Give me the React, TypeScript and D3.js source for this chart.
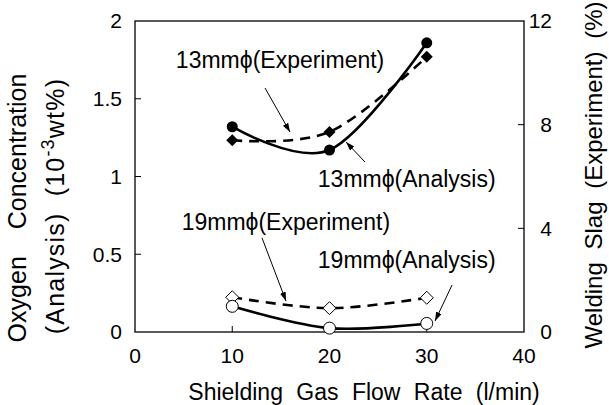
import React from 'react';
import * as d3 from 'd3';

// flow rate (l/min) on the x axis
const flowRates = [10, 20, 30];
// oxygen concentration, analysis (10^-3 wt%) - left axis
const oxygen13 = [1.32, 1.17, 1.86];
const oxygen19 = [0.165, 0.025, 0.055];
// welding slag, experiment (%) - right axis
const slag13 = [7.4, 7.72, 10.62];
const slag19 = [1.34, 0.92, 1.32];

const xTicks = [0, 10, 20, 30, 40];
const leftTicks = [0, 0.5, 1, 1.5, 2];
const rightTicks = [0, 4, 8, 12];

// labels with arrows, in data units (x, left axis value)
const notes = [
  {text: '13mm\u03d5(Experiment)', tx: 4.2, ty: 1.698, from: [13.37, 1.569], to: [15.94, 1.286]},
  {text: '13mm\u03d5(Analysis)', tx: 18.8, ty: 0.932, from: [23.65, 1.093], to: [21.7, 1.222]},
  {text: '19mm\u03d5(Experiment)', tx: 4.8, ty: 0.656, from: [13.06, 0.605], to: [15.53, 0.199]},
  {text: '19mm\u03d5(Analysis)', tx: 18.8, ty: 0.412, from: [32.6, 0.302], to: [30.85, 0.071]},
];

const width = 609, height = 405;
const margin = {top: 21, right: 85, bottom: 73, left: 135};
const font = '"Liberation Sans", Arial, Helvetica, sans-serif';

const App: React.FC = () => {
  const x = d3.scaleLinear().domain([0, 40]).range([margin.left, width - margin.right]);
  const yL = d3.scaleLinear().domain([0, 2]).range([height - margin.bottom, margin.top]);
  const yR = d3.scaleLinear().domain([0, 12]).range([height - margin.bottom, margin.top]);
  const x0 = x(0), x1 = x(40), y0 = yL(0), y1 = yL(2);

  const smooth = (scale: d3.ScaleLinear<number, number>) =>
    d3.line<number>()
    .x((_, i) => x(flowRates[i]))
    .y(d => scale(d))
    .curve(d3.curveCatmullRom.alpha(0));

  const diamond = (s: number) => `M0,${-s}L${s},0L0,${s}L${-s},0Z`;
  const tick = 6;

  return (
    <svg width={width} height={height} style={{position: 'absolute', left: 0, top: 0}}
         fontFamily={font}>
      <defs>
        <marker id="arrow" markerUnits="userSpaceOnUse" markerWidth={9} markerHeight={6}
                refX={9} refY={3} orient="auto">
          <path d="M0,0L9,3L0,6Z" fill="#000"/>
        </marker>
      </defs>
      <rect width={width} height={height} fill="#fff"/>

      {/* frame and inward ticks */}
      <rect x={x0} y={y1} width={x1 - x0} height={y0 - y1} fill="none" stroke="#000" strokeWidth={1.3}/>
      {xTicks.slice(1, -1).map(t => (
        <line key={'xt' + t} x1={x(t)} x2={x(t)} y1={y0} y2={y0 - tick} stroke="#000"/>
      ))}
      {leftTicks.slice(1, -1).map(t => (
        <line key={'lt' + t} x1={x0} x2={x0 + tick} y1={yL(t)} y2={yL(t)} stroke="#000"/>
      ))}
      {rightTicks.slice(1, -1).map(t => (
        <line key={'rt' + t} x1={x1} x2={x1 - tick} y1={yR(t)} y2={yR(t)} stroke="#000"/>
      ))}

      {/* tick labels */}
      <g fontSize={21} fill="#000">
        {xTicks.map(t => (
          <text key={'xl' + t} x={x(t)} y={y0 + 31} textAnchor="middle">{t}</text>
        ))}
        {leftTicks.map(t => (
          <text key={'ll' + t} x={x0 - 13} y={yL(t)} dy="0.35em" textAnchor="end">{t}</text>
        ))}
        {rightTicks.map(t => (
          <text key={'rl' + t} x={x1 + 28} y={yR(t)} dy="0.35em" textAnchor="end">{t}</text>
        ))}
      </g>

      {/* axis titles */}
      <text x={(188 + 540) / 2} y={400} fontSize={23} textAnchor="middle" wordSpacing={7}>
        Shielding Gas Flow Rate (l/min)
      </text>
      <g transform="translate(26,208) rotate(-90)" fontSize={25}>
        <text textAnchor="middle" wordSpacing={20}>Oxygen Concentration</text>
      </g>
      <g transform="translate(64,206) rotate(-90)" fontSize={25}>
        <text textAnchor="middle" wordSpacing={8} letterSpacing={1.2}>
          (Analysis) (10<tspan fontSize={18} dy={-10}>-3</tspan><tspan dy={10}>wt%)</tspan>
        </text>
      </g>
      <g transform="translate(602,175) rotate(-90)" fontSize={24}>
        <text textAnchor="middle" wordSpacing={6}>Welding Slag (Experiment) (%)</text>
      </g>

      {/* series lines */}
      <path d={smooth(yR)(slag13)!} fill="none" stroke="#000" strokeWidth={2.6} strokeDasharray="10,7"/>
      <path d={smooth(yR)(slag19)!} fill="none" stroke="#000" strokeWidth={2.6} strokeDasharray="10,7"/>
      <path d={smooth(yL)(oxygen13)!} fill="none" stroke="#000" strokeWidth={2.6}/>
      <path d={smooth(yL)(oxygen19)!} fill="none" stroke="#000" strokeWidth={2.6}/>

      {/* markers */}
      {slag13.map((v, i) => (
        <path key={'d13' + i} d={diamond(6)} transform={`translate(${x(flowRates[i])},${yR(v)})`} fill="#000"/>
      ))}
      {oxygen13.map((v, i) => (
        <circle key={'c13' + i} cx={x(flowRates[i])} cy={yL(v)} r={5.5} fill="#000"/>
      ))}
      {slag19.map((v, i) => (
        <path key={'d19' + i} d={diamond(6.5)} transform={`translate(${x(flowRates[i])},${yR(v)})`}
              fill="#fff" stroke="#000" strokeWidth={1}/>
      ))}
      {oxygen19.map((v, i) => (
        <circle key={'c19' + i} cx={x(flowRates[i])} cy={yL(v)} r={6} fill="#fff" stroke="#000" strokeWidth={1}/>
      ))}

      {/* annotations */}
      {notes.map(n => (
        <g key={n.text}>
          <text x={x(n.tx)} y={yL(n.ty)} fontSize={23}>{n.text}</text>
          <line x1={x(n.from[0])} y1={yL(n.from[1])} x2={x(n.to[0])} y2={yL(n.to[1])}
                stroke="#000" strokeWidth={1} markerEnd="url(#arrow)"/>
        </g>
      ))}
    </svg>
  );
};

export default App;
